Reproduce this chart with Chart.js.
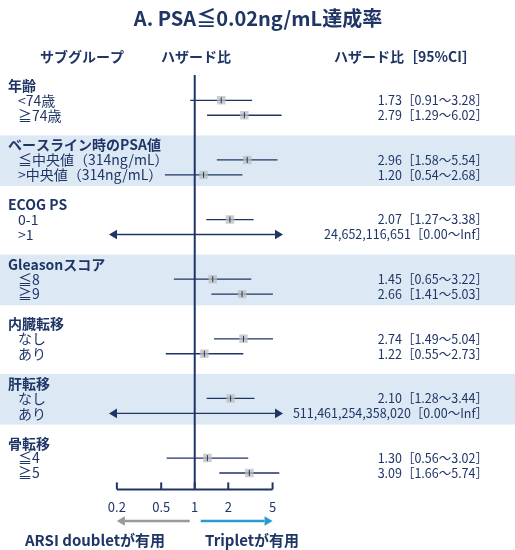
<!DOCTYPE html>
<html><head><meta charset="utf-8">
<script src="https://cdn.jsdelivr.net/npm/chart.js@4"></script>
<style>body{margin:0;background:#fff}canvas{display:block}</style>
</head><body>
<div style="width:515px;height:550px"><canvas id="forest"></canvas></div>
<script>
// --- Data ---
const groups = ['年齢', 'ベースライン時のPSA値', 'ECOG PS', 'Gleasonスコア', '内臓転移', '肝転移', '骨転移'];
const items = [
  ['<74歳', '≧74歳'],
  ['≦中央値（314ng/mL）', '>中央値（314ng/mL）'],
  ['0-1', '>1'],
  ['≦8', '≧9'],
  ['なし', 'あり'],
  ['なし', 'あり'],
  ['≦4', '≧5']
];
const hr = [1.73, 2.79, 2.96, 1.20, 2.07, 24652116651, 1.45, 2.66, 2.74, 1.22, 2.10, 511461254358020, 1.30, 3.09];
const lower = [0.91, 1.29, 1.58, 0.54, 1.27, 0, 0.65, 1.41, 1.49, 0.55, 1.28, 0, 0.56, 1.66];
const upper = [3.28, 6.02, 5.54, 2.68, 3.38, Infinity, 3.22, 5.03, 5.04, 2.73, 3.44, Infinity, 3.02, 5.74];
const ciText = ['1.73［0.91～3.28］', '2.79［1.29～6.02］', '2.96［1.58～5.54］', '1.20［0.54～2.68］',
  '2.07［1.27～3.38］', '24,652,116,651［0.00～Inf］', '1.45［0.65～3.22］', '2.66［1.41～5.03］',
  '2.74［1.49～5.04］', '1.22［0.55～2.73］', '2.10［1.28～3.44］', '511,461,254,358,020［0.00～Inf］',
  '1.30［0.56～3.02］', '3.09［1.66～5.74］'];
const tickValues = [0.2, 0.5, 1, 2, 5];

const NAVY = '#1f3566';
const rowY = i => Math.floor(i / 2) * 4 + 1 + (i % 2);

const points = hr.map((v, i) => ({ x: v, y: rowY(i) })).filter(p => p.x < 100);

function arrow(ctx, x1, x2, y, color, head) {
  const d = x2 > x1 ? 1 : -1;
  ctx.strokeStyle = color; ctx.fillStyle = color;
  ctx.beginPath(); ctx.moveTo(x1, y); ctx.lineTo(x2 - d * head, y); ctx.stroke();
  ctx.beginPath(); ctx.moveTo(x2, y); ctx.lineTo(x2 - d * head, y - head * 0.6);
  ctx.lineTo(x2 - d * head, y + head * 0.6); ctx.closePath(); ctx.fill();
}

const forestPlugin = {
  id: 'forest',
  beforeDatasetsDraw(chart) {
    const { ctx, scales: { x, y }, chartArea } = chart;
    ctx.save();
    // bands
    ctx.fillStyle = '#dce9f5';
    [1, 3, 5].forEach(g => {
      const top = y.getPixelForValue(g * 4 - 0.65);
      const bot = y.getPixelForValue(g * 4 + 2.75);
      ctx.fillRect(0, top, 515, bot - top);
    });
    // text
    ctx.fillStyle = NAVY; ctx.textBaseline = 'middle';
    ctx.font = 'bold 20px "Noto Sans CJK JP"'; ctx.textAlign = 'center';
    ctx.fillText('A. PSA≦0.02ng/mL達成率', 258, 18);
    ctx.font = 'bold 14px "Noto Sans CJK JP"';
    ctx.fillText('サブグループ', 82, 57);
    ctx.fillText('ハザード比', 196, 57);
    ctx.fillText('ハザード比［95%CI］', 405, 57);
    ctx.textAlign = 'left';
    groups.forEach((g, gi) => {
      ctx.font = 'bold 14px "Noto Sans CJK JP"';
      ctx.fillText(g, 8, y.getPixelForValue(gi * 4));
      ctx.font = '14px "Noto Sans CJK JP"';
      items[gi].forEach((t, k) => ctx.fillText(t, 18, y.getPixelForValue(gi * 4 + 1 + k)));
    });
    ctx.font = '12.5px "Noto Sans CJK JP"'; ctx.textAlign = 'right';
    ciText.forEach((t, i) => ctx.fillText(t, 488, y.getPixelForValue(rowY(i))));
    // null line
    ctx.strokeStyle = NAVY; ctx.lineWidth = 2;
    const x1 = x.getPixelForValue(1);
    ctx.beginPath(); ctx.moveTo(x1, chartArea.top); ctx.lineTo(x1, chartArea.bottom); ctx.stroke();
    // axis
    const ax0 = x.getPixelForValue(tickValues[0]), ax1 = x.getPixelForValue(tickValues[4]);
    ctx.beginPath(); ctx.moveTo(ax0, chartArea.bottom); ctx.lineTo(ax1, chartArea.bottom); ctx.stroke();
    tickValues.forEach(v => {
      const px = x.getPixelForValue(v);
      ctx.beginPath(); ctx.moveTo(px, chartArea.bottom); ctx.lineTo(px, chartArea.bottom - 7); ctx.stroke();
    });
    // CI lines
    ctx.lineWidth = 1.3;
    hr.forEach((v, i) => {
      const py = y.getPixelForValue(rowY(i));
      if (upper[i] === Infinity) {
        arrow(ctx, x1, chartArea.left, py, NAVY, 8);
        arrow(ctx, x1, chartArea.right, py, NAVY, 8);
      } else {
        ctx.strokeStyle = NAVY;
        ctx.beginPath(); ctx.moveTo(x.getPixelForValue(lower[i]), py);
        ctx.lineTo(x.getPixelForValue(upper[i]), py); ctx.stroke();
      }
    });
    // legend arrows
    ctx.lineWidth = 2.5;
    arrow(ctx, x1 - 5, ax0, 521, '#999999', 8);
    arrow(ctx, x1 + 6, ax1, 521, '#2a9bd1', 8);
    ctx.font = 'bold 15px "Noto Sans CJK JP"'; ctx.textAlign = 'center'; ctx.fillStyle = NAVY;
    ctx.fillText('ARSI doubletが有用', 95, 540);
    ctx.fillText('Tripletが有用', 252, 540);
    ctx.restore();
  },
  afterDatasetsDraw(chart) {
    const { ctx, scales: { x, y } } = chart;
    ctx.save(); ctx.strokeStyle = NAVY; ctx.lineWidth = 1;
    points.forEach(p => {
      const px = x.getPixelForValue(p.x), py = y.getPixelForValue(p.y);
      ctx.beginPath(); ctx.moveTo(px, py - 3); ctx.lineTo(px, py + 3); ctx.stroke();
    });
    ctx.restore();
  }
};

new Chart(document.getElementById('forest'), {
  type: 'scatter',
  data: { datasets: [{ data: points, pointStyle: 'rect', pointRadius: 6, backgroundColor: 'rgba(190,190,190,0.75)', borderWidth: 0 }] },
  plugins: [forestPlugin],
  options: {
    responsive: true, maintainAspectRatio: false, animation: false,
    layout: { padding: { top: 75, left: 109, right: 232, bottom: 33 } },
    plugins: { legend: { display: false }, tooltip: { enabled: false } },
    scales: {
      x: {
        type: 'logarithmic', min: 0.17, max: 6.2,
        afterBuildTicks: s => { s.ticks = tickValues.map(v => ({ value: v })); },
        ticks: { color: NAVY, font: { size: 13, family: 'Noto Sans CJK JP' }, padding: 2, autoSkip: false, maxRotation: 0, callback: v => String(v) },
        grid: { display: false }, border: { display: false }
      },
      y: { type: 'linear', min: -0.7, max: 27.1, reverse: true, display: false }
    }
  }
});
</script>
</body></html>
